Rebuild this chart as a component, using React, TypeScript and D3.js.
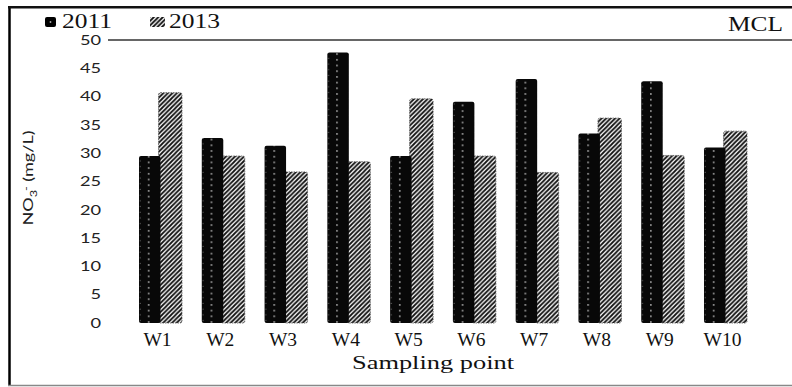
import React from 'react';
import * as d3 from 'd3';

// values (mg/L)
const points = ['W1', 'W2', 'W3', 'W4', 'W5', 'W6', 'W7', 'W8', 'W9', 'W10'];
const values2011 = [29.5, 32.7, 31.3, 47.8, 29.5, 39.1, 43.1, 33.5, 42.7, 31.0];
const values2013 = [40.7, 29.5, 26.7, 28.5, 39.6, 29.5, 26.6, 36.2, 29.6, 33.9];
const seriesNames = ['2011', '2013'];
const yTicks = [0, 5, 10, 15, 20, 25, 30, 35, 40, 45, 50];
const mclValue = 50;

const W = 792;
const H = 387;
const serif = '"Liberation Serif", "Times New Roman", serif';
const sans = 'Lato, "Open Sans", sans-serif';

export default function App() {
  const y = d3.scaleLinear().domain([0, 50]).range([323, 40]);
  const x = d3.scaleBand().domain(points).range([139, 747]).paddingInner(0.315).paddingOuter(0);
  const sub = d3.scaleBand().domain(seriesNames).range([0, x.bandwidth()]);

  const rows = points.map((p, i) => ({ p, v: [values2011[i], values2013[i]] }));

  return (
    <svg width={W} height={H} style={{ position: 'absolute', left: 0, top: 0, background: '#fff' }}>
      <defs>
        {/* diagonal hatch for 2013 */}
        <pattern id="hatch" patternUnits="userSpaceOnUse" width="4.5" height="4.5">
          <rect width="4.5" height="4.5" fill="#fff" />
          <path d="M-1,1 L1,-1 M0,4.5 L4.5,0 M3.5,5.5 L5.5,3.5" stroke="#111" strokeWidth="1.8" />
        </pattern>
        {rows.map((r, i) => (
          <pattern key={i} id={`dots-${i}`} patternUnits="userSpaceOnUse"
            x={(x(r.p) ?? 0)} y={0} width={sub.bandwidth()} height={5.7}>
            <rect width={sub.bandwidth()} height={5.7} fill="#080808" />
            <circle cx={sub.bandwidth() * 0.45} cy={2.8} r={0.85} fill="#bbb" />
            <circle cx={1.2} cy={1.2} r={0.6} fill="#777" />
          </pattern>
        ))}
      </defs>

      {/* frame */}
      <line x1={9.5} x2={9.5} y1={6} y2={386} stroke="#000" strokeWidth={2.5} />
      <line x1={8} x2={W} y1={7.2} y2={7.2} stroke="#111" strokeWidth={2.5} />
      <line x1={8} x2={W} y1={385.5} y2={385.5} stroke="#888" strokeWidth={1.5} />

      {/* legend */}
      <rect x={45} y={17} width={11} height={10} rx={2} fill="#000" />
      <circle cx={50.5} cy={22} r={0.9} fill="#aaa" />
      <text x={62} y={27.5} fontFamily={serif} fontSize={20} textLength={50} lengthAdjust="spacingAndGlyphs" fill="#111">{seriesNames[0]}</text>
      <rect x={150} y={17} width={15} height={10} fill="url(#hatch)" />
      <text x={169} y={27.5} fontFamily={serif} fontSize={20} textLength={51} lengthAdjust="spacingAndGlyphs" fill="#111">{seriesNames[1]}</text>
      <text x={783} y={31} textAnchor="end" fontFamily={serif} fontSize={20} textLength={55} lengthAdjust="spacingAndGlyphs" fill="#111">MCL</text>

      {/* MCL line */}
      <line x1={108} x2={W} y1={y(mclValue)} y2={y(mclValue)} stroke="#333" strokeWidth={1.6} />

      {/* y ticks */}
      {yTicks.map(t => (
        <text key={t} transform={`translate(101,${y(t) + 4.7}) scale(1.4,1)`} textAnchor="end"
          fontFamily={sans} fontSize={13} fill="#222">{t}</text>
      ))}
      <text transform="translate(33,178) rotate(-90)" textAnchor="middle" fontFamily={sans} fontSize={14}
        fill="#222" textLength={95} lengthAdjust="spacingAndGlyphs">
        NO<tspan fontSize={10} dy={4}>3</tspan><tspan fontSize={10} dy={-8} dx={-1}>-</tspan><tspan dy={4}> (mg/L)</tspan>
      </text>

      {/* bars */}
      {rows.map((r, i) => {
        const bx = x(r.p) ?? 0;
        const x1 = bx + (sub('2011') ?? 0);
        const x2 = bx + (sub('2013') ?? 0) - 2;
        const w1 = sub.bandwidth();
        const w2 = sub.bandwidth() + 2;
        return (
          <g key={r.p}>
            <rect x={x2} y={y(r.v[1])} width={w2} height={y(0) - y(r.v[1])} rx={2}
              fill="url(#hatch)" stroke="#555" strokeWidth={0.8} strokeDasharray="1.5 1" />
            <rect x={x1} y={y(r.v[0])} width={w1} height={y(0) - y(r.v[0])} rx={2}
              fill={`url(#dots-${i})`} />
          </g>
        );
      })}

      {/* x labels */}
      {points.map(p => (
        <text key={p} x={(x(p) ?? 0) + x.bandwidth() / 2 - 3} y={346} textAnchor="middle"
          fontFamily={serif} fontSize={19.5} fill="#111">{p}</text>
      ))}
      <text x={433} y={368.5} textAnchor="middle" fontFamily={serif} fontSize={19.5}
        textLength={162} lengthAdjust="spacingAndGlyphs" fill="#111">Sampling point</text>
    </svg>
  );
}
